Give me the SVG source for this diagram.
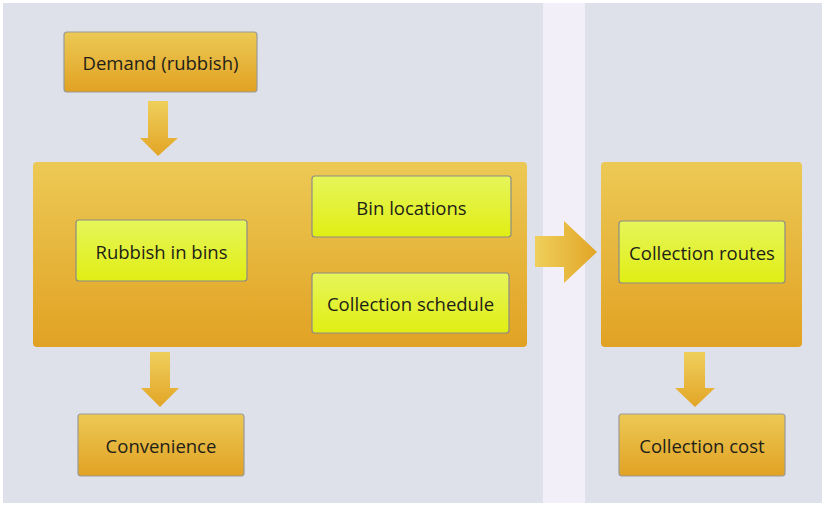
<svg xmlns="http://www.w3.org/2000/svg" width="825" height="505" viewBox="0 0 825 505">
<defs>
<linearGradient id="org" x1="0" y1="0" x2="0" y2="1">
<stop offset="0" stop-color="#ecc955"/>
<stop offset="1" stop-color="#e1a223"/>
</linearGradient>
<linearGradient id="ylw" x1="0" y1="0" x2="0" y2="1">
<stop offset="0" stop-color="#e6f55a"/>
<stop offset="1" stop-color="#e0ee14"/>
</linearGradient>
<linearGradient id="arrV" x1="0" y1="0" x2="0" y2="1">
<stop offset="0" stop-color="#efcf5c"/>
<stop offset="1" stop-color="#e2a526"/>
</linearGradient>
<linearGradient id="arrH" x1="0" y1="0" x2="1" y2="0">
<stop offset="0" stop-color="#efcf5c"/>
<stop offset="1" stop-color="#e2a526"/>
</linearGradient>
</defs>
<style>
.box{fill:url(#org);stroke:#9a9a96;stroke-width:1.2}
.inner{fill:url(#ylw);stroke:#8c8c86;stroke-width:1.2}
.cont{fill:url(#org)}
.t{font-family:"Open Sans","Noto Sans","Liberation Sans",sans-serif;font-size:18.5px;fill:#1e1e18;text-anchor:middle;dominant-baseline:central}
</style>
<rect x="0" y="0" width="825" height="505" fill="#ffffff"/>
<rect x="3" y="3" width="540" height="500" fill="#dfe1ea"/>
<rect x="543" y="3" width="42" height="500" fill="#f3eff9"/>
<rect x="585" y="3" width="237" height="500" fill="#dfe1ea"/>

<g id="left-container"><rect class="cont" x="33" y="162" width="494" height="185" rx="4"/></g>
<g id="right-container"><rect class="cont" x="601" y="162" width="201" height="185" rx="4"/></g>

<g id="connectors">
<polygon fill="url(#arrV)" points="148,101 168,101 168,138 178,138 158,156 140,138 148,138"/>
<polygon fill="url(#arrV)" points="150,352 170,352 170,388 179,388 160,407 141,388 150,388"/>
<polygon fill="url(#arrV)" points="684,352 705,352 705,388 715,388 695,407 675,388 684,388"/>
<polygon fill="url(#arrH)" points="535,236 564,236 564,221 597,252 564,283 564,267 535,267"/>
</g>

<g id="demand"><rect class="box" x="64" y="32" width="193" height="60" rx="3"/><text class="t" x="160.5" y="62">Demand (rubbish)</text></g>
<g id="rubbish-in-bins"><rect class="inner" x="76" y="220" width="171" height="61" rx="3"/><text class="t" x="161.5" y="251">Rubbish in bins</text></g>
<g id="bin-locations"><rect class="inner" x="312" y="176" width="199" height="61" rx="3"/><text class="t" x="411.5" y="207">Bin locations</text></g>
<g id="collection-schedule"><rect class="inner" x="312" y="273" width="197" height="60" rx="3"/><text class="t" x="410.5" y="303">Collection schedule</text></g>
<g id="collection-routes"><rect class="inner" x="619" y="221" width="166" height="62" rx="3"/><text class="t" x="702" y="252">Collection routes</text></g>
<g id="convenience"><rect class="box" x="78" y="414" width="166" height="62" rx="3"/><text class="t" x="161" y="445">Convenience</text></g>
<g id="collection-cost"><rect class="box" x="619" y="414" width="166" height="62" rx="3"/><text class="t" x="702" y="445">Collection cost</text></g>
</svg>
